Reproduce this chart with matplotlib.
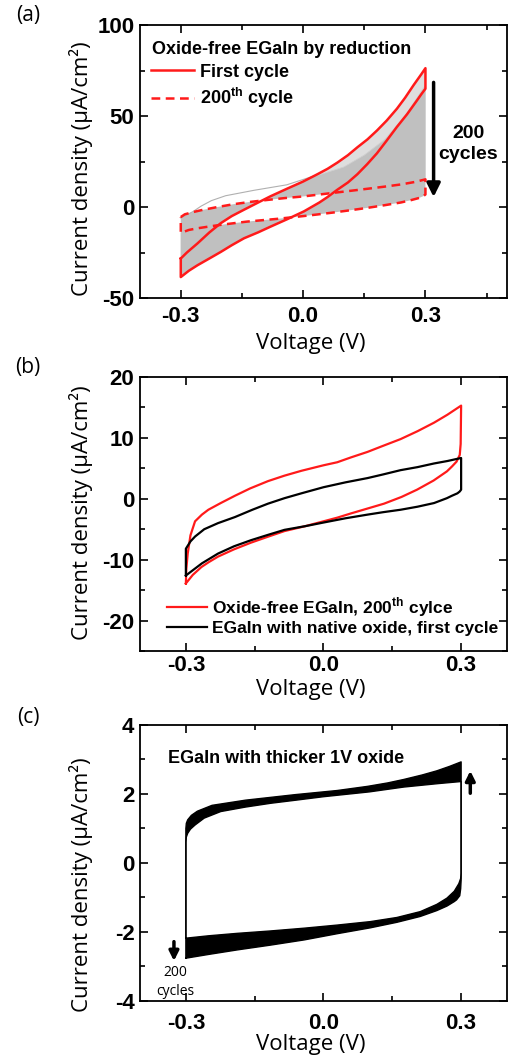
import numpy as np
import matplotlib
matplotlib.use('Agg')
import matplotlib.pyplot as plt
from matplotlib.ticker import MultipleLocator, FormatStrFormatter

plt.rcParams['font.family'] = ['Liberation Sans', 'DejaVu Sans']
plt.rcParams['axes.unicode_minus'] = False
plt.rcParams['mathtext.fontset'] = 'custom'
plt.rcParams['mathtext.rm'] = 'Liberation Sans'
plt.rcParams['mathtext.bf'] = 'Liberation Sans:bold'

## (a) Oxide-free EGaIn by reduction ##
# first cycle, forward scan (-0.3 -> 0.3 V)
a_first_fwd_v = [-0.3, -0.285, -0.259, -0.23, -0.202, -0.175, -0.145, -0.11, -0.08, -0.04, 0.0, 0.035,
                 0.06, 0.084, 0.11, 0.133, 0.158, 0.181, 0.205, 0.23, 0.25, 0.271, 0.29, 0.3]
a_first_fwd_j = [-28.3, -25, -20, -14, -8.9, -5, -1.5, 2.5, 5.9, 10, 14, 18,
                 21, 24.4, 28.5, 32.8, 37.2, 42, 47.5, 54, 60, 67, 73, 76.3]
# first cycle, reverse scan (0.3 -> -0.3 V)
a_first_rev_v = [0.3, 0.29, 0.279, 0.255, 0.23, 0.205, 0.181, 0.157, 0.133, 0.11, 0.084, 0.06, 0.04,
                 0.002, -0.04, -0.08, -0.11, -0.145, -0.175, -0.202, -0.23, -0.259, -0.28, -0.3]
a_first_rev_j = [65, 62, 58.5, 51, 44, 36.5, 29.5, 23.5, 18, 13.5, 9.5, 5.5, 2.5,
                 -2.4, -6.8, -10.8, -13.9, -17.2, -21, -24.7, -28.3, -32, -35, -38.5]
# 200th cycle
a_last_fwd_v = [-0.3, -0.29, -0.27, -0.251, -0.21, -0.169, -0.13, -0.087, -0.045, 0.0, 0.075,
                0.12, 0.157, 0.2, 0.24, 0.275, 0.3]
a_last_fwd_j = [-5.5, -4.0, -2.8, -1.8, 0.0, 1.6, 2.8, 3.9, 4.9, 5.8, 7.8,
                9.0, 10.0, 11.2, 12.4, 13.8, 15.2]
a_last_rev_v = [0.3, 0.295, 0.285, 0.265, 0.24, 0.2, 0.157, 0.115, 0.075, 0.035, 0.0,
                -0.063, -0.137, -0.17, -0.202, -0.23, -0.259, -0.28, -0.3]
a_last_rev_j = [6.9, 6.0, 5.0, 3.8, 2.5, 1.0, -0.5, -1.8, -3.0, -4.1, -5.0,
                -6.5, -8.0, -8.9, -9.8, -10.7, -11.7, -12.6, -14.2]
# an early cycle that sits above the 200th one at negative voltage
a_early_v = [-0.3, -0.27, -0.25, -0.225, -0.19, -0.12, -0.04, 0.03]
a_early_j = [-6, -2.5, 0.5, 3.5, 6.2, 9.2, 12.2, 17.3]
# lower edge of the sparse fan of cycles under the first cycle
a_fan_v = [0.03, 0.1, 0.15, 0.2, 0.25, 0.3]
a_fan_j = [17, 22, 28.5, 37, 50, 67]

## (b) 200th cycle of oxide-free vs native oxide ##
b_free_fwd_v = [-0.3, -0.299, -0.296, -0.29, -0.28, -0.265, -0.251, -0.224, -0.193, -0.16, -0.121,
                -0.085, -0.048, 0.0, 0.03, 0.06, 0.096, 0.13, 0.168, 0.205, 0.241, 0.27, 0.3]
b_free_fwd_j = [-13.9, -11.5, -9, -6, -3.7, -2.6, -1.8, -0.7, 0.5, 1.7, 2.9,
                3.8, 4.6, 5.5, 6.0, 6.8, 7.7, 8.7, 9.8, 11.1, 12.5, 13.8, 15.3]
b_free_rev_v = [0.3, 0.299, 0.297, 0.29, 0.28, 0.269, 0.24, 0.204, 0.17, 0.132, 0.096, 0.06, 0.03,
                0.0, -0.04, -0.085, -0.12, -0.158, -0.195, -0.23, -0.25, -0.266, -0.285, -0.3]
b_free_rev_j = [15.3, 9, 7.2, 6.1, 5.3, 4.5, 3.0, 1.5, 0.3, -0.8, -1.6, -2.4, -3.1,
                -3.7, -4.5, -5.3, -6.2, -7.2, -8.3, -9.5, -10.4, -11.2, -12.5, -13.9]
b_native_fwd_v = [-0.3, -0.3, -0.29, -0.28, -0.26, -0.23, -0.193, -0.155, -0.121, -0.085, -0.048,
                  0.0, 0.048, 0.096, 0.13, 0.168, 0.205, 0.241, 0.27, 0.3]
b_native_fwd_j = [-12.6, -8.2, -7.0, -6.2, -5.0, -4.0, -3.0, -1.8, -0.8, 0.1, 0.9,
                  1.9, 2.7, 3.4, 4.0, 4.7, 5.2, 5.8, 6.2, 6.7]
b_native_rev_v = [0.3, 0.3, 0.297, 0.292, 0.28, 0.269, 0.241, 0.205, 0.168, 0.13, 0.096, 0.048,
                  0.0, -0.04, -0.085, -0.12, -0.158, -0.195, -0.23, -0.265, -0.3]
b_native_rev_j = [6.7, 1.5, 1.2, 0.9, 0.5, 0.1, -0.7, -1.3, -1.8, -2.2, -2.6, -3.2,
                  -3.9, -4.5, -5.1, -5.9, -6.8, -7.8, -9.0, -10.6, -12.6]

## (c) thicker 1V oxide, first and 200th cycle ##
c_first_fwd_v = [-0.3, -0.3, -0.299, -0.296, -0.29, -0.28, -0.26, -0.224, -0.17, -0.115, -0.06,
                 0.0, 0.05, 0.1, 0.175, 0.25, 0.3]
c_first_fwd_j = [-2.18, 0.6, 0.75, 0.86, 0.98, 1.1, 1.3, 1.49, 1.62, 1.73, 1.82,
                 1.92, 1.99, 2.06, 2.2, 2.3, 2.36]
c_first_rev_v = [0.3, 0.3, 0.299, 0.295, 0.285, 0.269, 0.247, 0.211, 0.16, 0.102, 0.03,
                 -0.042, -0.115, -0.188, -0.25, -0.3]
c_first_rev_j = [2.36, -0.3, -0.45, -0.6, -0.82, -1.02, -1.2, -1.41, -1.58, -1.70, -1.80,
                 -1.89, -1.97, -2.04, -2.11, -2.18]
c_last_fwd_v = [-0.3, -0.3, -0.299, -0.296, -0.288, -0.275, -0.243, -0.17, -0.062, 0.03, 0.096,
                0.14, 0.175, 0.215, 0.247, 0.275, 0.3]
c_last_fwd_j = [-2.76, 1.0, 1.15, 1.25, 1.38, 1.5, 1.67, 1.82, 1.98, 2.1, 2.22,
                2.32, 2.42, 2.55, 2.67, 2.8, 2.93]
c_last_rev_v = [0.3, 0.3, 0.299, 0.297, 0.29, 0.285, 0.269, 0.247, 0.211, 0.16, 0.102, 0.03,
                -0.042, -0.115, -0.188, -0.25, -0.3]
c_last_rev_j = [2.93, -0.5, -0.75, -0.95, -1.07, -1.12, -1.25, -1.38, -1.55, -1.72, -1.88, -2.05,
                -2.23, -2.38, -2.52, -2.65, -2.76]


def loop(fwd_v, fwd_j, rev_v, rev_j):
    v = np.concatenate([fwd_v, rev_v, fwd_v[:1]])
    j = np.concatenate([fwd_j, rev_j, fwd_j[:1]])
    return v, j


def band(v1, j1, v2, j2):
    return np.concatenate([v1, v2[::-1]]), np.concatenate([j1, j2[::-1]])


def style_axes(ax, xlim, ylim, ymajor, yminor, xpad):
    ax.set_xlim(*xlim)
    ax.set_ylim(*ylim)
    ax.xaxis.set_major_locator(MultipleLocator(0.3))
    ax.xaxis.set_minor_locator(MultipleLocator(0.15))
    ax.xaxis.set_major_formatter(FormatStrFormatter('%.1f'))
    ax.yaxis.set_major_locator(MultipleLocator(ymajor))
    ax.yaxis.set_minor_locator(MultipleLocator(yminor))
    ax.tick_params(which='both', direction='in', top=True, right=True, width=1.2)
    ax.tick_params(which='major', length=6, labelsize=16)
    ax.tick_params(which='minor', length=3.5)
    ax.tick_params(axis='x', pad=xpad)
    ax.tick_params(axis='y', pad=4)
    plt.setp(ax.get_xticklabels() + ax.get_yticklabels(), fontweight='bold')
    for sp in ax.spines.values():
        sp.set_linewidth(1.3)


def add_labels(ax, xlab_y, ylab_y):
    ax.set_xlabel('Voltage (V)', family='Open Sans', fontsize=16, va='center')
    ax.xaxis.set_label_coords(0.466, xlab_y)
    ax.set_ylabel('Current density (μA/cm²)', family='Open Sans', fontsize=16, va='center')
    ax.yaxis.set_label_coords(-0.161, ylab_y)


fig = plt.figure(figsize=(5.13, 10.56), dpi=100)
ax_a = fig.add_axes([0.2729, 0.7178, 0.7154, 0.2585])
ax_b = fig.add_axes([0.2729, 0.3835, 0.7154, 0.2595])
ax_c = fig.add_axes([0.2729, 0.0521, 0.7154, 0.2614])

## Panel (a) ##
gray = '#c0c0c0'
ax_a.fill(*band(a_first_fwd_v, a_first_fwd_j, a_last_fwd_v, a_last_fwd_j), color=gray, lw=0, zorder=1)
ax_a.fill(*band(a_first_rev_v, a_first_rev_j, a_last_rev_v, a_last_rev_j), color=gray, lw=0, zorder=1)
fan_mask = np.array(a_first_fwd_v) >= 0.03
ax_a.fill(*band(np.array(a_first_fwd_v)[fan_mask], np.array(a_first_fwd_j)[fan_mask],
                np.array(a_fan_v), np.array(a_fan_j)), color='#dedede', lw=0, zorder=1.5)
ax_a.plot(a_fan_v, a_fan_j, color='#cfcfcf', lw=0.6, zorder=1.6)
ax_a.plot(a_early_v, a_early_j, color='#b0b0b0', lw=0.8, zorder=1.6)
ax_a.plot(*loop(a_first_fwd_v, a_first_fwd_j, a_first_rev_v, a_first_rev_j),
          color='#ff1a1a', lw=1.8, zorder=3, label='First cycle')
ax_a.plot(*loop(a_last_fwd_v, a_last_fwd_j, a_last_rev_v, a_last_rev_j),
          color='#ff1a1a', lw=1.8, dashes=(3.5, 2.2), zorder=3, label=r'200$^{\mathbf{th}}$ cycle')
style_axes(ax_a, (-0.4, 0.5), (-50, 100), 50, 25, 6)
add_labels(ax_a, (298 - 344) / 273, 0.4725)
ax_a.text(0.033, 0.912, 'Oxide-free EGaIn by reduction', transform=ax_a.transAxes,
          fontsize=13, fontweight='bold', va='center')
ax_a.legend(loc='upper left', bbox_to_anchor=(0.030, 0.858), frameon=False,
            prop={'weight': 'bold', 'size': 13}, borderpad=0, borderaxespad=0,
            handlelength=2.4, handletextpad=0.3, labelspacing=0.3)
ax_a.annotate('', xy=(0.32, 4), xytext=(0.32, 70),
              arrowprops=dict(arrowstyle='-|>', lw=2.5, color='k', mutation_scale=20))
ax_a.text(0.405, 34.6, '200\ncycles', ha='center', va='center', fontsize=14,
          fontweight='bold', linespacing=1.3)

## Panel (b) ##
ax_b.plot(*loop(b_free_fwd_v, b_free_fwd_j, b_free_rev_v, b_free_rev_j),
          color='#ff1a1a', lw=1.6, label=r'Oxide-free EGaIn, 200$^{\mathbf{th}}$ cylce')
ax_b.plot(*loop(b_native_fwd_v, b_native_fwd_j, b_native_rev_v, b_native_rev_j),
          color='k', lw=1.6, label='EGaIn with native oxide, first cycle')
style_axes(ax_b, (-0.4, 0.4), (-25, 20), 10, 5, 3)
add_labels(ax_b, (651 - 689) / 274, 0.505)
ax_b.legend(loc='upper left', bbox_to_anchor=(0.0736, 0.204), frameon=False,
            prop={'weight': 'bold', 'size': 12.5}, borderpad=0, borderaxespad=0,
            handlelength=2.3, handletextpad=0.3, labelspacing=0.1)

## Panel (c) ##
ax_c.fill(*band(np.array(c_last_fwd_v[1:]), np.array(c_last_fwd_j[1:]),
                np.array(c_first_fwd_v[1:]), np.array(c_first_fwd_j[1:])), color='k', lw=0)
ax_c.fill(*band(np.array(c_last_rev_v[1:]), np.array(c_last_rev_j[1:]),
                np.array(c_first_rev_v[1:]), np.array(c_first_rev_j[1:])), color='k', lw=0)
ax_c.plot(*loop(c_first_fwd_v, c_first_fwd_j, c_first_rev_v, c_first_rev_j), color='k', lw=1.0)
ax_c.plot(*loop(c_last_fwd_v, c_last_fwd_j, c_last_rev_v, c_last_rev_j), color='k', lw=1.0)
style_axes(ax_c, (-0.4, 0.4), (-4, 4), 2, 1, 9)
add_labels(ax_c, (1001 - 1045) / 276, 0.42)
ax_c.text(0.076, 0.880, 'EGaIn with thicker 1V oxide', transform=ax_c.transAxes,
          fontsize=13, fontweight='bold', va='center')
ax_c.annotate('', xy=(0.32, 2.75), xytext=(0.32, 1.94),
              arrowprops=dict(arrowstyle='-|>', lw=2.5, color='k', mutation_scale=14))
ax_c.annotate('', xy=(-0.326, -2.92), xytext=(-0.326, -2.2),
              arrowprops=dict(arrowstyle='-|>', lw=2.5, color='k', mutation_scale=14))
ax_c.text(-0.322, -3.45, '200\ncycles', ha='center', va='center', fontsize=10,
          family='Open Sans', linespacing=1.35)

## Panel letters ##
for letter, y in [('(a)', 16), ('(b)', 368), ('(c)', 718)]:
    fig.text(28 / 513, 1 - y / 1056, letter, fontsize=15, family='Open Sans',
             ha='center', va='center')

fig.savefig('out.png', dpi=100)
